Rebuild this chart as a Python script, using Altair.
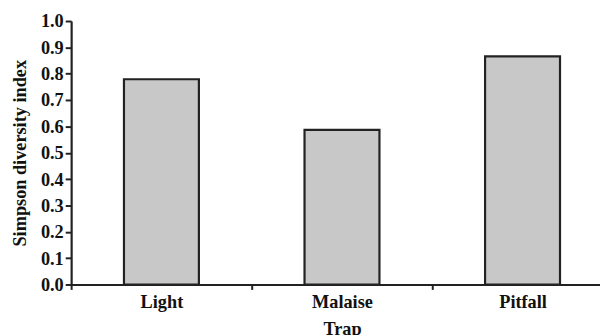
import altair as alt
import pandas as pd

traps = ["Light", "Malaise", "Pitfall"]
simpson = [0.779, 0.587, 0.866]

df = pd.DataFrame({"Trap": traps, "Simpson": simpson})

FONT = "Liberation Serif"
DARK = "#222222"
TXT = "#111111"

common = dict(
    grid=False, domainColor=DARK, domainWidth=2.2, tickColor=DARK, tickWidth=2,
    labelFont=FONT, labelFontSize=18.5, labelFontWeight="bold", labelColor=TXT,
    titleFont=FONT, titleFontSize=18.5, titleFontWeight="bold", titleColor=TXT,
)

bars = alt.Chart(df).mark_bar(
    fill="#c8c8c8", stroke=DARK, strokeWidth=2.2,
    width=alt.RelativeBandSize(0.415)
).encode(
    x=alt.X("Trap:N", sort=traps,
            scale=alt.Scale(range=[0, 549], paddingInner=0, paddingOuter=0),
            axis=alt.Axis(title="Trap", labelAngle=0, tickBand="extent",
                          tickSize=5, labelPadding=3, titlePadding=9, **common)),
    y=alt.Y("Simpson:Q",
            scale=alt.Scale(domain=[0, 1], nice=False),
            axis=alt.Axis(title="Simpson diversity index", values=[i / 10 for i in range(11)],
                          format=".1f", tickSize=6, labelPadding=2, titlePadding=11, **common)),
)

chart = bars.properties(
    width=536, height=267,
    autosize=alt.AutoSizeParams(type="none"),
    padding={"left": 64, "top": 11, "right": 0, "bottom": 49},
).configure_view(stroke=None)

chart.save("out.html", embed_options={"renderer": "svg", "actions": False})
